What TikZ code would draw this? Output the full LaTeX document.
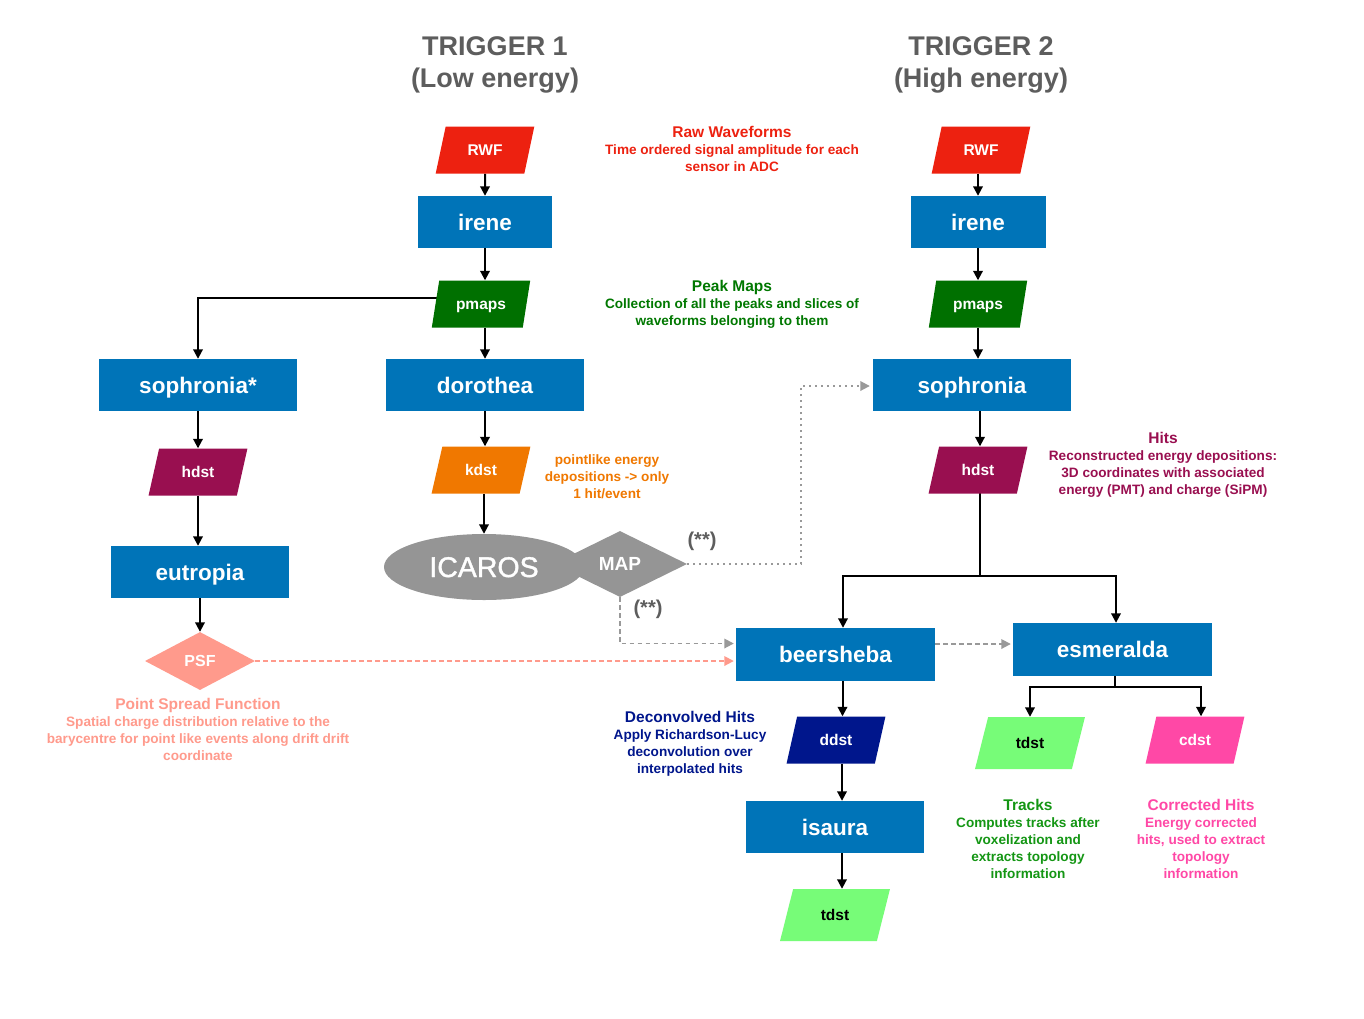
\documentclass[tikz,border=0pt]{standalone}
\usepackage{fontspec}
\setmainfont{Liberation Sans}
\newfontfamily\medfont[FakeBold=1.3]{Liberation Sans}
\usetikzlibrary{shapes.geometric,arrows.meta}
\pgfdeclarelayer{bg}
\pgfsetlayers{bg,main}
\definecolor{procblue}{RGB}{0,116,184}
\definecolor{rwfred}{RGB}{237,33,16}
\definecolor{pgreen}{RGB}{0,112,0}
\definecolor{notegreen}{RGB}{0,120,0}
\definecolor{korange}{RGB}{240,120,0}
\definecolor{hpurple}{RGB}{153,15,80}
\definecolor{icgray}{RGB}{149,149,149}
\definecolor{psfsalmon}{RGB}{255,154,140}
\definecolor{navyd}{RGB}{0,22,140}
\definecolor{tgreen}{RGB}{119,252,120}
\definecolor{trackgreen}{RGB}{20,150,20}
\definecolor{cpink}{RGB}{255,72,166}
\definecolor{titlegray}{RGB}{93,93,93}
\definecolor{linkgray}{RGB}{153,153,153}
\tikzset{
  proc/.style={fill=procblue, text=white, inner sep=0pt, minimum height=52pt,
    text height=16pt, text depth=0pt,
    font=\bfseries\fontsize{22.5}{26}\selectfont},
  data/.style={trapezium, trapezium left angle=68, trapezium right angle=112,
    trapezium stretches=true, minimum width=99pt, minimum height=47pt, inner sep=0pt,
    text height=11pt, text depth=0pt,
    text=white, font=\bfseries\fontsize{15.5}{18}\selectfont},
  ttl/.style={anchor=base, text=titlegray, inner sep=0pt, font=\bfseries\fontsize{27}{32}\selectfont},
  note/.style={anchor=north, align=center, inner sep=0pt, font=\bfseries\fontsize{13.6}{17}\selectfont},
  tip/.style={-{Triangle[width=9.5pt,length=9.5pt]}},
  arr/.style={line width=2pt, tip},
  ln/.style={line width=2pt},
  graydot/.style={line width=1.8pt, draw=linkgray, dash pattern=on 1.8pt off 4.2pt, tip, shorten >=3pt},
  graydash/.style={line width=1.8pt, draw=linkgray, dash pattern=on 4.5pt off 3.5pt, tip, shorten >=2pt},
  salmondash/.style={line width=1.8pt, draw=psfsalmon, dash pattern=on 4.5pt off 3.5pt, tip, shorten >=2pt},
  starlbl/.style={text=titlegray, inner sep=0pt, font=\bfseries\fontsize{20}{24}\selectfont}
}
\newcommand{\nt}[1]{{\fontsize{15.5}{17}\selectfont #1}}
\begin{document}
\begin{tikzpicture}[x=1pt,y=-1pt]
\useasboundingbox (0,0) rectangle (1364,1018);

% titles
\node[ttl] (t1a) at (495,55) {TRIGGER 1};
\node[ttl] (t1b) at (495,87) {(Low energy)};
\node[ttl] (t2a) at (981,55) {TRIGGER 2};
\node[ttl] (t2b) at (981,87) {(High energy)};

% trigger 1 column
\node[data, fill=rwfred] (rwf1) at (485,150) {RWF};
\node[proc, minimum width=134pt] (irene1) at (485,222) {irene};
\node[data, fill=pgreen] (pmaps1) at (481,304) {pmaps};
\node[proc, minimum width=198pt] (doro) at (485,385) {dorothea};
\node[proc, minimum width=198pt] (soph1) at (198,385) {sophronia*};
\node[data, fill=korange] (kdst) at (481,470) {kdst};
\node[ellipse, fill=icgray, minimum width=200pt, minimum height=66pt, inner sep=0pt,
  text=white, text height=20pt, text depth=0pt, font=\medfont\fontsize{28.5}{32}\selectfont] (icaros) at (484,567) {ICAROS};
\node[diamond, fill=icgray, minimum width=134pt, minimum height=66pt, inner sep=0pt,
  text=white, text height=13.5pt, text depth=0pt, font=\bfseries\fontsize{19}{22}\selectfont] (map) at (620,564) {MAP};
\node[data, fill=hpurple] (hdst1) at (198,472) {hdst};
\node[proc, minimum width=178pt] (eutro) at (200,572) {eutropia};
\node[diamond, fill=psfsalmon, minimum width=110pt, minimum height=58pt, inner sep=0pt,
  text=white, text height=11.5pt, text depth=0pt, font=\bfseries\fontsize{16}{18}\selectfont] (psf) at (200,661) {PSF};

% trigger 2 column
\node[data, fill=rwfred] (rwf2) at (981,150) {RWF};
\node[proc, minimum width=135pt] (irene2) at (978,222) {irene};
\node[data, fill=pgreen] (pmaps2) at (978,304) {pmaps};
\node[proc, minimum width=198pt] (soph2) at (972,385) {sophronia};
\node[data, fill=hpurple] (hdst2) at (978,470) {hdst};
\node[proc, minimum width=199pt, minimum height=53pt] (beer) at (835.5,654.5) {beersheba};
\node[proc, minimum width=199pt, minimum height=53pt] (esme) at (1112.5,649.5) {esmeralda};
\node[data, fill=navyd] (ddst) at (836,740) {ddst};
\node[proc, minimum width=178pt] (isaura) at (835,827) {isaura};
\node[data, fill=tgreen, text=black, minimum width=110pt, minimum height=52pt] (tdst1) at (835,915) {tdst};
\node[data, fill=tgreen, text=black, minimum width=110pt, minimum height=52pt] (tdst2) at (1030,743) {tdst};
\node[data, fill=cpink] (cdst) at (1195,740) {cdst};

% labels
\node[starlbl] (s1) at (702,541) {(**)};
\node[starlbl] (s2) at (648,609) {(**)};

% notes
\node[note, text=rwfred] (nraw) at (732,126) {\nt{Raw Waveforms}\\Time ordered signal amplitude for each\\sensor in ADC};
\node[note, text=notegreen] (npeak) at (732,280) {\nt{Peak Maps}\\Collection of all the peaks and slices of\\waveforms belonging to them};
\node[note, text=korange] (npoint) at (607,454) {pointlike energy\\depositions -> only\\1 hit/event};
\node[note, text=hpurple] (nhits) at (1163,432) {\nt{Hits}\\Reconstructed energy depositions:\\3D coordinates with associated\\energy (PMT) and charge (SiPM)};
\node[note, text=navyd] (ndec) at (690,711) {\nt{Deconvolved Hits}\\Apply Richardson-Lucy\\deconvolution over\\interpolated hits};
\node[note, text=trackgreen] (ntrk) at (1028,799) {\nt{Tracks}\\Computes tracks after\\voxelization and\\extracts topology\\information};
\node[note, text=cpink] (ncor) at (1201,799) {\nt{Corrected Hits}\\Energy corrected\\hits, used to extract\\topology\\information};
\node[note, text=psfsalmon] (npsf) at (198,698) {\nt{Point Spread Function}\\Spatial charge distribution relative to the\\barycentre for point like events along drift drift\\coordinate};

% connectors
\begin{pgfonlayer}{bg}
\fill[white] (0,0) rectangle (1364,1018);
\draw[arr] (rwf1.south) -- (irene1.north);
\draw[arr] (irene1.south) -- (irene1.south |- pmaps1.north);
\draw[arr] (doro.north |- pmaps1.south) -- (doro.north);
\draw[arr] ([yshift=6pt]pmaps1.center) -| (soph1.north);
\draw[arr] (doro.south) -- (doro.south |- kdst.north);
\draw[arr] (icaros.north |- kdst.south) -- (icaros.north);
\draw[arr] (soph1.south) -- (soph1.south |- hdst1.north);
\draw[arr] (hdst1.south) -- (hdst1.south |- eutro.north);
\draw[arr] (eutro.south) -- (psf.north);
\draw[salmondash] (psf.east) -- (psf.east -| beer.west);
\draw[graydot] (map.east) -- ++(114,0) |- ([yshift=-1pt]soph2.west);
\draw[graydash] (map.south) |- ([yshift=11pt]beer.west);

\draw[arr] (irene2.north |- rwf2.south) -- (irene2.north);
\draw[arr] (irene2.south) -- (irene2.south |- pmaps2.north);
\draw[arr] (pmaps2.south) -- (pmaps2.south |- soph2.north);
\draw[arr] ([xshift=2pt]hdst2.north |- soph2.south) -- ([xshift=2pt]hdst2.north);
\draw[ln] ([xshift=2pt]hdst2.center) -- ++(0,106) coordinate (split);
\coordinate (bl) at (843,576);
\coordinate (br) at (1116,576);
\draw[ln, line cap=rect] (bl) -- (br);
\draw[arr] (bl) -- (bl |- beer.north);
\draw[arr] (br) -- (br |- esme.north);
\draw[graydash] ([yshift=10.5pt]beer.east) -- ([yshift=10.5pt]beer.east -| esme.west);
\draw[ln] ([xshift=2pt]esme.south) -- ++(0,11) coordinate (esplit);
\coordinate (el) at (1030,687);
\coordinate (er) at (1201,687);
\draw[ln, line cap=rect] (el) -- (er);
\draw[arr] (el) -- (el |- tdst2.north);
\draw[arr] (er) -- (er |- cdst.north);
\draw[arr] ([xshift=7pt]beer.south) -- ([xshift=7pt]beer.south |- ddst.north);
\draw[arr] ([xshift=6pt]ddst.south) -- ([xshift=6pt]ddst.south |- isaura.north);
\draw[arr] ([xshift=7pt]isaura.south) -- ([xshift=7pt]isaura.south |- tdst1.north);
\end{pgfonlayer}
\end{tikzpicture}
\end{document}
